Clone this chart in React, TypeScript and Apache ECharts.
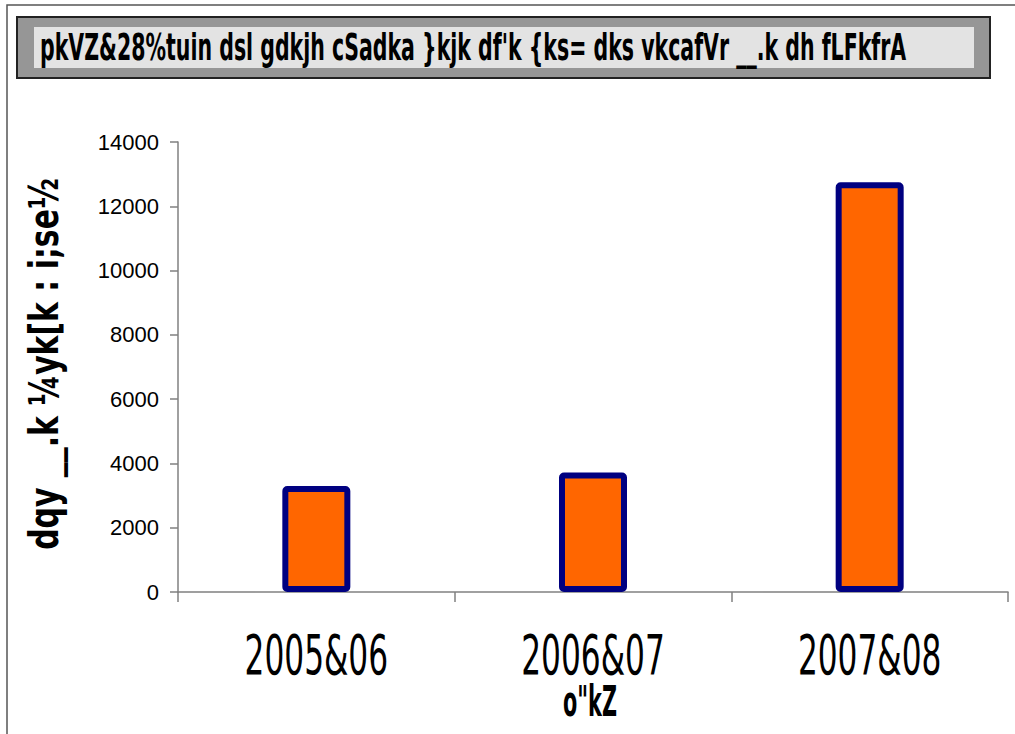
import React, { useEffect, useRef } from "react";
import * as echarts from "echarts";

const titleText = "pkVZ&28%tuin dsl gdkjh cSadka }kjk df'k {ks= dks vkcafVr __.k dh fLFkfrA";
const xAxisTitle = "o\"kZ";
const yAxisTitle = "dqy __.k ¼yk[k : i;se½";
const categories = ["2005&06", "2006&07", "2007&08"];
const values = [3300, 3720, 12750];
const yTicks = { min: 0, max: 14000, interval: 2000 };

const narrow = "'DejaVu Sans Condensed', 'DejaVu Sans', sans-serif";

export default function App() {
  const ref = useRef<HTMLDivElement>(null);
  useEffect(() => {
    if (!ref.current) return;
    const chart = echarts.init(ref.current, undefined, { renderer: "svg" });
    const staticGraphic: any[] = [
      {
        type: "rect",
        shape: { x: 7, y: 5, width: 1020, height: 740 },
        style: { fill: "none", stroke: "#555555", lineWidth: 1.5 },
        silent: true,
      },
      {
        type: "rect",
        shape: { x: 17, y: 17, width: 973, height: 61 },
        style: { fill: "#969696", stroke: "#222222", lineWidth: 2 },
        silent: true,
      },
      {
        type: "rect",
        shape: { x: 34, y: 27, width: 940, height: 41 },
        style: { fill: "#e3e3e3", stroke: "none" },
        silent: true,
      },
      {
        type: "text",
        x: 40,
        y: 47,
        scaleX: 0.6,
        style: {
          text: titleText,
          fill: "#000000",
          font: `bold 38px ${narrow}`,
          verticalAlign: "middle",
          align: "left",
        },
        silent: true,
      },
      {
        type: "text",
        x: 44,
        y: 364,
        rotation: Math.PI / 2,
        scaleX: 0.83,
        style: {
          text: yAxisTitle,
          fill: "#000000",
          font: `bold 40px ${narrow}`,
          verticalAlign: "middle",
          align: "center",
        },
        silent: true,
      },
    ];
    chart.setOption({
      animation: false,
      backgroundColor: "#ffffff",
      graphic: staticGraphic,
      grid: { left: 178, right: 7, top: 142, bottom: 142, containLabel: false },
      xAxis: {
        type: "category",
        data: categories,
        boundaryGap: true,
        axisLine: { lineStyle: { color: "#808080", width: 1.5 } },
        axisTick: { show: true, length: 10, inside: false, alignWithLabel: false, lineStyle: { color: "#808080", width: 1.5 } },
        axisLabel: { show: false },
        splitLine: { show: false },
      },
      yAxis: {
        type: "value",
        min: yTicks.min,
        max: yTicks.max,
        interval: yTicks.interval,
        axisLine: { show: true, lineStyle: { color: "#808080", width: 1.5 } },
        axisTick: { show: true, length: 8, lineStyle: { color: "#808080", width: 1.5 } },
        axisLabel: {
          fontFamily: "'Liberation Sans', Arial, sans-serif",
          fontSize: 22,
          color: "#000",
          margin: 19,
          formatter: (v: number) => String(v),
        },
        splitLine: { show: false },
      },
      series: [
        {
          type: "bar",
          data: values,
          barWidth: 68,
          itemStyle: { color: "#ff6600", borderColor: "#000080", borderWidth: 6, borderRadius: 2 },
        },
      ],
    });

    const gridRect = { left: 178, right: 1015 - 7, bottom: 734 - 142 };
    const labelGraphic = categories.map((c) => {
      const px = chart.convertToPixel({ xAxisIndex: 0 }, c) as number;
      return {
        type: "text",
        x: px,
        y: gridRect.bottom + 63,
        scaleX: 0.62,
        style: {
          text: c,
          fill: "#000000",
          font: `56px ${narrow}`,
          verticalAlign: "middle",
          align: "center",
        },
        silent: true,
      };
    });
    const xName = {
      type: "text",
      x: (gridRect.left + gridRect.right) / 2 - 3,
      y: gridRect.bottom + 110,
      scaleX: 0.55,
      style: {
        text: xAxisTitle,
        fill: "#000000",
        font: `bold 42px ${narrow}`,
        verticalAlign: "middle",
        align: "center",
      },
      silent: true,
    };
    chart.setOption({ graphic: [...staticGraphic, ...labelGraphic, xName] });
    return () => chart.dispose();
  }, []);
  return <div ref={ref} style={{ position: "absolute", left: 0, top: 0, width: 1015, height: 734 }} />;
}
